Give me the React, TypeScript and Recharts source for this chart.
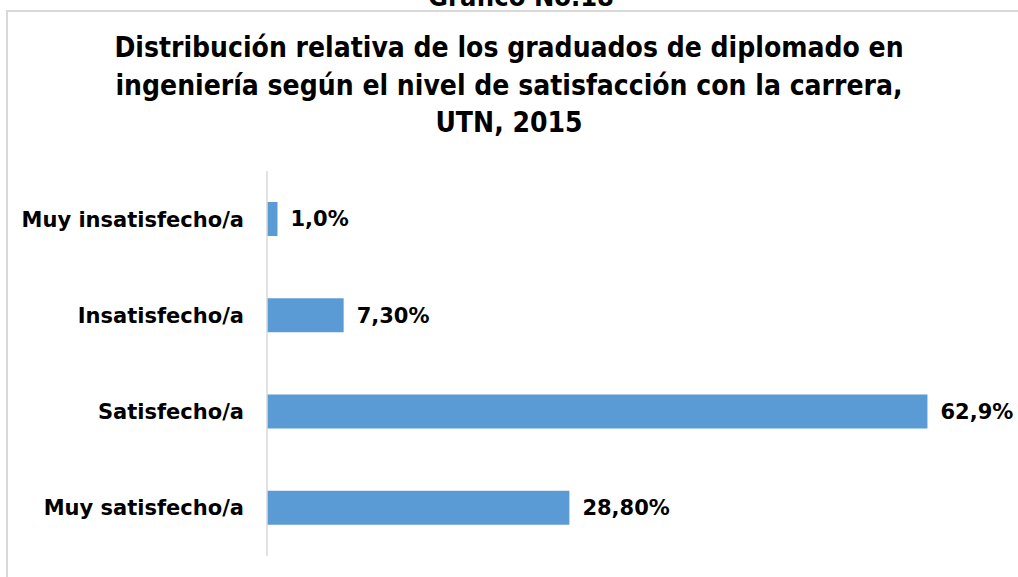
import { BarChart, Bar, XAxis, YAxis, LabelList } from 'recharts';

const categories = ['Muy insatisfecho/a', 'Insatisfecho/a', 'Satisfecho/a', 'Muy satisfecho/a'];
const values = [1.0, 7.3, 62.9, 28.8];
const valueLabels = ['1,0%', '7,30%', '62,9%', '28,80%'];

const titleLines = [
  'Distribución relativa de los graduados de diplomado en',
  'ingeniería según el nivel de satisfacción con la carrera,',
  'UTN, 2015',
];

const data = categories.map((name, i) => ({ name, value: values[i], label: valueLabels[i] }));

const labelFont = '"DejaVu Sans", sans-serif';
const titleFont = '"DejaVu Sans Condensed", "DejaVu Sans", sans-serif';

export default function App() {
  return (
    <div
      style={{
        position: 'absolute',
        left: 0,
        top: 0,
        width: 1018,
        height: 577,
        overflow: 'hidden',
        background: '#fff',
      }}
    >
      <div
        style={{
          position: 'absolute',
          left: 6,
          top: 10,
          width: 1100,
          height: 700,
          borderLeft: '2px solid #d9d9d9',
          borderTop: '2px solid #d9d9d9',
        }}
      />
      <svg width={1018} height={577} style={{ position: 'absolute', left: 0, top: 0 }}>
        {/* heading above the frame, cut off by the page edge as in the original */}
        <text
          x={521}
          y={6}
          textAnchor="middle"
          fontFamily={titleFont}
          fontWeight="bold"
          fontSize={27}
          fill="#000"
        >
          Gráfico No.18
        </text>
        {titleLines.map((line, i) => (
          <text
            key={i}
            x={509}
            y={57 + i * 37.5}
            textAnchor="middle"
            fontFamily={titleFont}
            fontWeight="bold"
            fontSize={28}
            fill="#000"
          >
            {line}
          </text>
        ))}
      </svg>
      <div style={{ position: 'absolute', left: 0, top: 0 }}>
        <BarChart
          width={1018}
          height={577}
          data={data}
          layout="vertical"
          margin={{ top: 171, right: 16, bottom: 21, left: 0 }}
        >
          <XAxis type="number" domain={[0, 70]} hide />
          <YAxis
            type="category"
            dataKey="name"
            width={267}
            tickLine={false}
            tickSize={0}
            tickMargin={23}
            axisLine={{ stroke: '#d9d9d9', strokeWidth: 1.5 }}
            tick={{ fill: '#000', fontSize: 21, fontWeight: 'bold', fontFamily: labelFont }}
          />
          <Bar dataKey="value" fill="#5b9bd5" barSize={34} isAnimationActive={false}>
            <LabelList
              dataKey="label"
              position="right"
              offset={13}
              fill="#000"
              fontSize={21}
              fontWeight="bold"
              fontFamily={labelFont}
            />
          </Bar>
        </BarChart>
      </div>
    </div>
  );
}
